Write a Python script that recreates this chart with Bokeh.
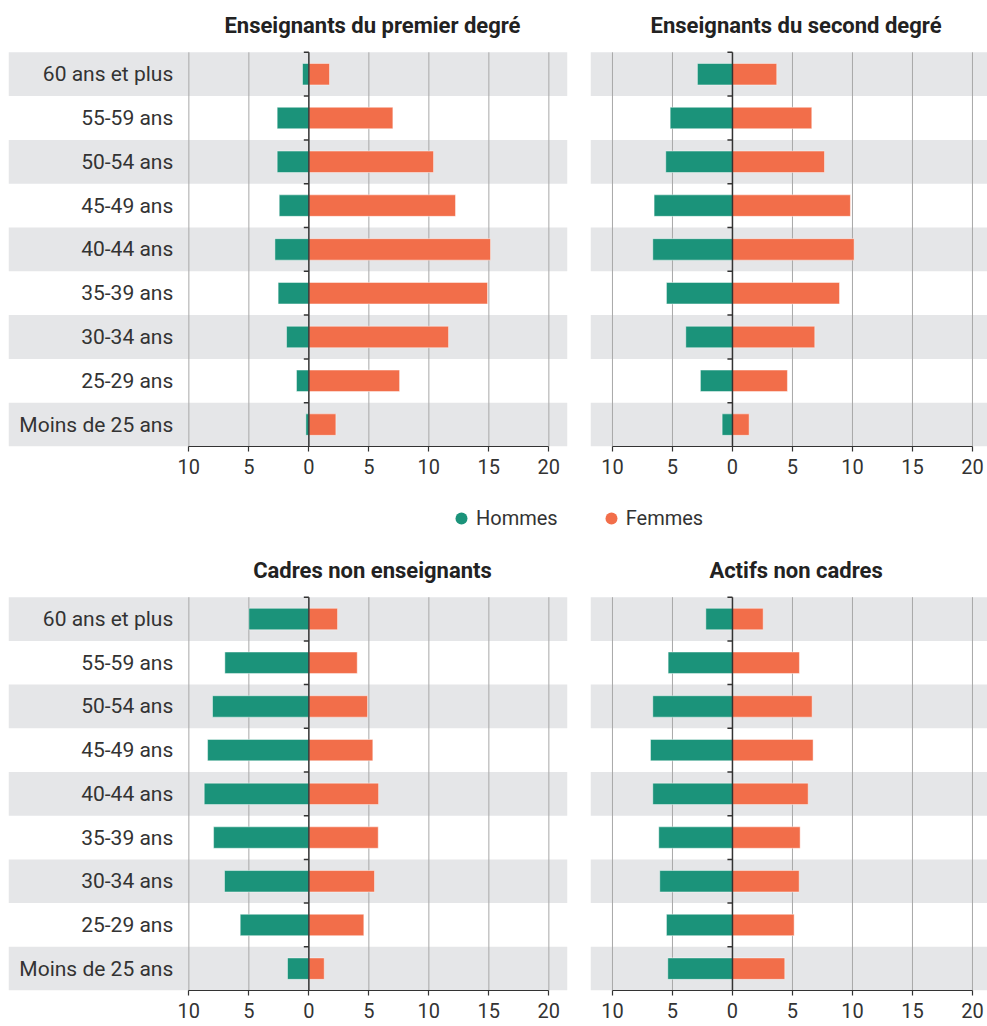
from bokeh.plotting import figure
from bokeh.models import (Range1d, LinearAxis, FixedTicker, CustomJSTickFormatter,
                          BoxAnnotation, ColumnDataSource, Legend, LegendItem)
from bokeh.layouts import column, row
from bokeh.core.properties import value
from bokeh.embed import file_html
from bokeh.resources import INLINE

# ---------------- data ----------------
age_groups = ["60 ans et plus", "55-59 ans", "50-54 ans", "45-49 ans", "40-44 ans",
              "35-39 ans", "30-34 ans", "25-29 ans", "Moins de 25 ans"]  # top -> bottom

panel_titles = ["Enseignants du premier degré", "Enseignants du second degré",
                "Cadres non enseignants", "Actifs non cadres"]

hommes_premier = [0.53, 2.64, 2.64, 2.47, 2.83, 2.56, 1.86, 1.03, 0.25]
femmes_premier = [1.72, 7.0, 10.39, 12.22, 15.14, 14.89, 11.64, 7.56, 2.25]
hommes_second = [2.92, 5.19, 5.56, 6.53, 6.64, 5.5, 3.89, 2.67, 0.86]
femmes_second = [3.69, 6.61, 7.67, 9.83, 10.14, 8.92, 6.86, 4.58, 1.39]
hommes_cadres = [5.0, 7.0, 8.03, 8.44, 8.72, 7.94, 7.03, 5.72, 1.78]
femmes_cadres = [2.39, 4.03, 4.89, 5.33, 5.81, 5.78, 5.47, 4.58, 1.28]
hommes_actifs = [2.22, 5.36, 6.64, 6.83, 6.64, 6.14, 6.06, 5.5, 5.39]
femmes_actifs = [2.56, 5.58, 6.64, 6.72, 6.31, 5.64, 5.56, 5.14, 4.36]

x_ticks = [-10, -5, 0, 5, 10, 15, 20]
series_labels = ["Hommes", "Femmes"]

# ---------------- style ----------------
GREEN = "#1b937a"
ORANGE = "#f26e4a"
BAND = "#e5e6e8"
GRID = "#a8a8a8"
TEXT = "#333333"
FONT = "Roboto"


def make_panel(title, hommes, femmes, show_labels, x_start, x_end, frame_w, frame_h,
               border_left, border_right, border_top, border_bottom):
    n = len(age_groups)
    p = figure(frame_width=frame_w, frame_height=frame_h,
               x_range=Range1d(x_start, x_end), y_range=Range1d(0, n + 1),
               toolbar_location=None, output_backend="svg",
               x_axis_type=None, y_axis_type=None,
               min_border=0, min_border_left=border_left, min_border_right=border_right,
               min_border_top=border_top, min_border_bottom=border_bottom,
               outline_line_color=None, background_fill_color="white")

    ypos = [n - 1 - i + 0.5 for i in range(n)]

    # alternating bands (first row on top is grey)
    for i in range(0, n, 2):
        p.add_layout(BoxAnnotation(bottom=n - 1 - i, top=n - i, fill_color=BAND,
                                   fill_alpha=1, line_color=None, level="underlay"))

    # vertical grid lines
    grid_x = [t for t in x_ticks if t != 0]
    p.segment(x0=grid_x, y0=[0] * len(grid_x), x1=grid_x, y1=[n] * len(grid_x),
              line_color=GRID, line_width=1)

    src = ColumnDataSource(dict(y=ypos, left=[-h for h in hommes], right=femmes))
    p.hbar(y="y", left="left", right=0, height=0.49, source=src,
           fill_color=GREEN, line_color="white", line_alpha=0.45, line_width=1)
    p.hbar(y="y", left=0, right="right", height=0.49, source=src,
           fill_color=ORANGE, line_color="white", line_alpha=0.45, line_width=1)

    # zero axis with small ticks at the row boundaries
    p.segment(x0=[0], y0=[0], x1=[0], y1=[n], line_color=TEXT, line_width=1.5)
    bounds = list(range(1, n + 1))
    p.segment(x0=[-0.42] * n, y0=bounds, x1=[0] * n, y1=bounds, line_color=TEXT, line_width=1.5)

    if show_labels:
        p.text(x=[-11.3] * n, y=ypos, text=age_groups, text_align="right",
               text_baseline="middle", text_font=value(FONT), text_font_size="21px",
               text_color=TEXT)

    p.text(x=[5.3], y=[n + 0.62], text=[title], text_align="center", text_baseline="middle",
           text_font=value(FONT), text_font_size="22px", text_font_style="bold",
           text_color="#222222")

    ax = LinearAxis(ticker=FixedTicker(ticks=x_ticks, minor_ticks=[]),
                    formatter=CustomJSTickFormatter(code="return Math.abs(tick).toString();"),
                    bounds=(-10, 20), major_tick_in=0, major_tick_out=5,
                    minor_tick_in=0, minor_tick_out=0, major_label_standoff=7,
                    axis_line_color=TEXT, axis_line_width=1.2,
                    major_tick_line_color=TEXT, major_tick_line_width=1.2,
                    major_label_text_font=FONT, major_label_text_font_size="20px",
                    major_label_text_color=TEXT)
    p.add_layout(ax, "below")
    return p


TOP_H = 438
BOT_H = 437
LEFT_W = 559
RIGHT_W = 397
left_range = (-25.03, -25.03 + LEFT_W / 12.0)
right_range = (-11.83, -11.83 + RIGHT_W / 12.0)

p1 = make_panel(panel_titles[0], hommes_premier, femmes_premier, True, *left_range,
                LEFT_W, TOP_H, 8, 23, 8, 34)
p2 = make_panel(panel_titles[1], hommes_second, femmes_second, False, *right_range,
                RIGHT_W, TOP_H, 0, 0, 8, 34)
p3 = make_panel(panel_titles[2], hommes_cadres, femmes_cadres, True, *left_range,
                LEFT_W, BOT_H, 8, 23, 0, 35)
p4 = make_panel(panel_titles[3], hommes_actifs, femmes_actifs, False, *right_range,
                RIGHT_W, BOT_H, 0, 0, 0, 35)

# legend strip
pl = figure(width=987, height=73, toolbar_location=None, output_backend="svg",
            x_axis_type=None, y_axis_type=None, min_border=0, outline_line_color=None,
            x_range=Range1d(0, 1), y_range=Range1d(0, 1))
r1 = pl.scatter(x=[-5], y=[-5], marker="circle", fill_color=GREEN, line_color=None)
r2 = pl.scatter(x=[-5], y=[-5], marker="circle", fill_color=ORANGE, line_color=None)
legend = Legend(items=[LegendItem(label=series_labels[0], renderers=[r1]),
                       LegendItem(label=series_labels[1], renderers=[r2])],
                orientation="horizontal", location=(446, 20), padding=0, spacing=38,
                glyph_width=30, glyph_height=30, label_standoff=0, margin=0,
                border_line_color=None, background_fill_alpha=0,
                label_text_font=FONT, label_text_font_size="20px", label_text_color=TEXT)
pl.add_layout(legend, "center")

layout = column(row(p1, p2), pl, row(p3, p4))

open("out.html", "w").write(file_html(layout, INLINE))
